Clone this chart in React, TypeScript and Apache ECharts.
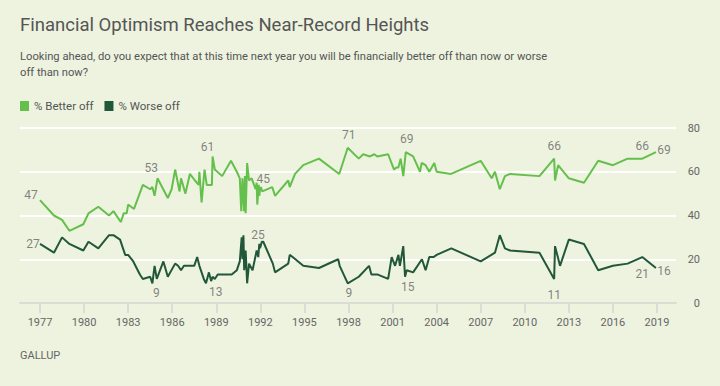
import React, { useEffect, useRef } from 'react';
import * as echarts from 'echarts';

// Survey dates (decimal years) and percentages
const betterDates = [1977.0, 1977.95, 1978.5, 1979.0, 1979.95, 1980.3, 1980.97, 1981.7, 1982.0, 1982.5, 1982.7, 1982.9, 1983.0, 1983.4, 1984.0, 1984.5, 1984.65, 1984.8, 1985.0, 1985.7, 1985.96, 1986.2, 1986.5, 1986.6, 1986.9, 1987.2, 1987.55, 1987.8, 1987.85, 1988.0, 1988.2, 1988.35, 1988.7, 1988.75, 1988.9, 1989.4, 1990.0, 1990.4, 1990.6, 1990.7, 1990.78, 1990.85, 1990.89, 1990.95, 1991.0, 1991.1, 1991.23, 1991.41, 1991.57, 1991.68, 1991.75, 1991.79, 1991.89, 1991.93, 1991.98, 1992.04, 1992.13, 1992.81, 1993.0, 1993.9, 1994.0, 1994.36, 1994.92, 1995.99, 1997.37, 1997.95, 1998.7, 1999.0, 1999.46, 1999.76, 1999.96, 2000.7, 2001.1, 2001.28, 2001.4, 2001.55, 2001.73, 2001.9, 2002.4, 2002.87, 2002.98, 2003.25, 2003.5, 2003.84, 2004.0, 2004.98, 2007.0, 2007.75, 2007.97, 2008.3, 2008.65, 2009.0, 2011.0, 2012.0, 2012.06, 2012.27, 2013.0, 2014.03, 2015.0, 2016.0, 2017.0, 2018.0, 2018.93];
const betterPct = [47, 40, 38, 33, 36, 41, 44, 40, 42, 37, 41, 41, 45, 43, 54, 52, 53, 49, 57, 48, 52, 61, 51, 57, 50, 59, 56, 54, 60, 46, 61, 54, 54, 67, 61, 58, 65, 60, 57, 42, 57, 48, 42, 58, 41, 64, 56, 57, 54, 52, 55, 45, 54, 49, 52, 53, 51, 53, 49, 56, 53, 59, 63, 66, 59, 71, 66, 68, 67, 68, 67, 68, 61, 62, 62, 66, 58, 69, 67, 60, 64, 63, 60, 64, 60, 59, 65, 57, 60, 52, 58, 59, 58, 66, 56, 63, 57, 55, 65, 63, 66, 66, 69];

const worseDates = [1977.0, 1977.95, 1978.5, 1979.0, 1979.95, 1980.3, 1980.97, 1981.7, 1982.0, 1982.45, 1982.8, 1983.0, 1983.35, 1983.8, 1984.0, 1984.5, 1984.65, 1984.8, 1984.95, 1985.4, 1985.7, 1986.2, 1986.4, 1986.6, 1986.8, 1987.15, 1987.5, 1987.7, 1987.85, 1988.15, 1988.3, 1988.5, 1988.65, 1988.75, 1988.9, 1989.1, 1990.05, 1990.4, 1990.6, 1990.73, 1990.78, 1990.85, 1990.9, 1991.0, 1991.1, 1991.23, 1991.47, 1991.75, 1991.86, 1991.93, 1991.98, 1992.1, 1992.2, 1992.85, 1993.0, 1993.9, 1994.0, 1994.2, 1994.92, 1995.99, 1997.3, 1997.4, 1997.95, 1998.7, 1999.4, 1999.56, 2000.0, 2000.7, 2000.94, 2001.17, 2001.4, 2001.5, 2001.73, 2001.85, 2001.96, 2002.4, 2003.0, 2003.25, 2003.5, 2003.8, 2004.0, 2005.0, 2007.0, 2007.97, 2008.3, 2008.65, 2009.0, 2011.0, 2012.0, 2012.06, 2012.4, 2013.0, 2014.03, 2015.0, 2016.0, 2017.0, 2018.0, 2018.93];
const worsePct = [27, 23, 30, 27, 24, 28, 25, 31, 31, 29, 22, 22, 19, 13, 11, 12, 9, 17, 11, 19, 12, 18, 17, 15, 17, 17, 17, 21, 17, 11, 9, 14, 10, 12, 11, 13, 13, 15, 19, 30, 20, 31, 15, 24, 9, 18, 15, 24, 21, 27, 25, 28, 28, 18, 14, 18, 22, 21, 17, 16, 20, 17, 9, 12, 17, 13, 13, 11, 21, 17, 22, 17, 26, 12, 15, 14, 20, 15, 21, 21, 22, 25, 19, 23, 31, 25, 24, 23, 11, 26, 17, 29, 27, 15, 17, 18, 21, 16];

// Tick labels
const xTickYears = [1977, 1980, 1983, 1986, 1989, 1992, 1995, 1998, 2001, 2004, 2007, 2010, 2013, 2016, 2019];

// Labelled points (by survey date)
const betterNoteDates = [1977.0, 1984.65, 1988.2, 1991.79, 1997.95, 2001.9, 2012.0, 2018.0, 2018.93];
const worseNoteDates = [1977.0, 1984.65, 1989.1, 1991.98, 1997.95, 2001.96, 2012.0, 2018.0, 2018.93];

// Label placement (pixel offsets from the point)
const betterNoteOffsets = [[-9, -5], [-1, -19], [3, -23], [6, -26], [1, -13], [1, -13], [0, -13], [0, -13], [8, -2]];
const worseNoteOffsets = [[-7, 0], [4, 10], [-2, 17], [-2, -13], [1, 10], [1, 17], [0, 16], [0, 17], [8, 3]];

const LIGHT = '#64bf4c';
const DARK = '#22573a';
const BG = '#edf3df';
const FONT = 'Roboto, sans-serif';

export default function App() {
  const ref = useRef<HTMLDivElement>(null);
  useEffect(() => {
    document.body.style.margin = '0';
    const chart = echarts.init(ref.current!, null, { renderer: 'svg' });

    const notes = (dates: number[], pct: number[], noteDates: number[], offsets: number[][]) =>
      noteDates.map((d, i) => {
        const idx = dates.indexOf(d);
        return { value: [dates[idx], pct[idx]], label: { offset: offsets[i] } };
      });

    chart.setOption({
      animation: false,
      backgroundColor: BG,
      textStyle: { fontFamily: FONT },
      grid: { left: 20, right: 44, top: 128, bottom: 83, containLabel: false, outerBoundsMode: 'none' },
      legend: {
        data: ['% Better off', '% Worse off'],
        left: 20,
        top: 100,
        padding: 0,
        icon: 'rect',
        itemWidth: 9,
        itemHeight: 10,
        itemGap: 11,
        selectedMode: false,
        textStyle: { fontSize: 11.5, color: '#555', fontFamily: FONT },
      },
      graphic: [
        {
          type: 'text',
          left: 20,
          top: 15,
          style: { text: 'Financial Optimism Reaches Near-Record Heights', fontSize: 18.5, fill: '#555', fontFamily: FONT },
        },
        {
          type: 'text',
          left: 20,
          top: 48,
          style: {
            text: 'Looking ahead, do you expect that at this time next year you will be financially better off than now or worse\noff than now?',
            fontSize: 11.2,
            lineHeight: 16,
            fill: '#555',
            fontFamily: FONT,
          },
        },
        {
          type: 'text',
          left: 20,
          top: 350,
          style: { text: 'GALLUP', fontSize: 11, fill: '#666', fontFamily: FONT },
        },
      ],
      xAxis: {
        type: 'value',
        min: 1975.639,
        max: 2020.295,
        axisLine: { show: true, lineStyle: { color: '#dcdcd6', width: 2 } },
        axisTick: { show: true, customValues: xTickYears, length: 10, lineStyle: { color: '#dcdcd6', width: 2 } },
        axisLabel: {
          customValues: xTickYears,
          formatter: (v: number) => String(Math.round(v)),
          margin: 14,
          fontSize: 11,
          color: '#666',
          fontFamily: FONT,
        },
        splitLine: { show: false },
      },
      yAxis: {
        type: 'value',
        position: 'right',
        min: 0,
        max: 80,
        interval: 20,
        axisLine: { show: false },
        axisTick: { show: false },
        axisLabel: { align: 'right', margin: 24, fontSize: 11, color: '#666', fontFamily: FONT },
        splitLine: { show: true, lineStyle: { color: '#ffffff', width: 2 } },
      },
      series: [
        {
          type: 'line',
          name: '% Better off',
          data: betterDates.map((d, i) => [d, betterPct[i]]),
          showSymbol: false,
          symbol: 'none',
          lineStyle: { width: 2, color: LIGHT },
          itemStyle: { color: LIGHT },
          emphasis: { disabled: true },
          z: 3,
        },
        {
          type: 'line',
          name: '% Worse off',
          data: worseDates.map((d, i) => [d, worsePct[i]]),
          showSymbol: false,
          symbol: 'none',
          lineStyle: { width: 2, color: DARK },
          itemStyle: { color: DARK },
          emphasis: { disabled: true },
          z: 3,
        },
        {
          type: 'scatter',
          name: 'betterNotes',
          data: notes(betterDates, betterPct, betterNoteDates, betterNoteOffsets),
          symbolSize: 1,
          itemStyle: { color: 'transparent' },
          silent: true,
          label: {
            show: true,
            position: 'inside',
            formatter: (p: any) => String(p.value[1]),
            fontSize: 12,
            color: '#666',
            fontFamily: FONT,
          },
          z: 5,
        },
        {
          type: 'scatter',
          name: 'worseNotes',
          data: notes(worseDates, worsePct, worseNoteDates, worseNoteOffsets),
          symbolSize: 1,
          itemStyle: { color: 'transparent' },
          silent: true,
          label: {
            show: true,
            position: 'inside',
            formatter: (p: any) => String(p.value[1]),
            fontSize: 12,
            color: '#666',
            fontFamily: FONT,
          },
          z: 5,
        },
      ],
    });
    return () => chart.dispose();
  }, []);
  return <div ref={ref} style={{ position: 'absolute', left: 0, top: 0, width: 720, height: 386 }} />;
}
